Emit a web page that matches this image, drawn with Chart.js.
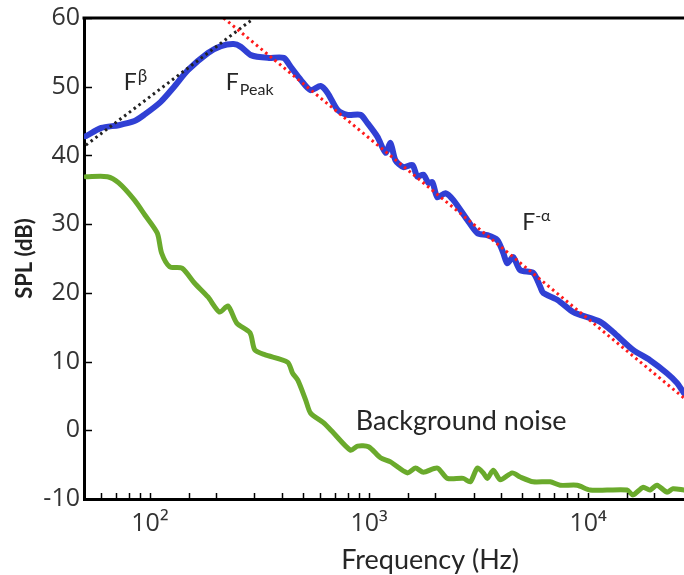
<!DOCTYPE html>
<html><head><meta charset="utf-8">
<script src="https://cdn.jsdelivr.net/npm/chart.js@4/dist/chart.umd.min.js"></script>
<style>html,body{margin:0;padding:0;background:#fff;overflow:hidden}</style>
</head><body>
<canvas id="c" width="684" height="575"></canvas>
<script>
// Measured spectrum (blue)
const blueFreq=[51,60,72,85,94,112,129,149,184,211,241,260,289,345,408,439,488,541,601,647,719,798,915,984,1093,1189,1253,1320,1436,1578,1663,1771,1867,1947,2052,2231,2427,2811,3121,3467,3849,4101,4276,4553,4900,5616,6044,6237,7225,8545,9196,11342,13000,16032,19164,22902,25440,27374];
const blueSPL=[42.8,44.0,44.4,45.0,45.9,47.8,50.0,52.4,54.9,55.9,56.2,55.8,54.6,54.2,54.2,52.9,51.0,49.5,50.1,49.1,46.6,45.9,45.9,44.7,42.7,40.4,41.8,39.3,38.3,38.6,36.9,37.2,36.0,36.1,33.9,34.5,33.5,30.6,28.7,28.4,27.7,25.8,24.3,25.2,23.3,22.9,20.9,20.0,19.0,17.2,16.8,15.8,14.3,11.7,10.2,8.3,6.9,5.4];
// Background noise (green)
const noiseFreq=[51,64,72,85,95,108,113,123,140,160,184,208,227,249,286,301,334,425,448,473,514,541,619,689,824,886,995,1128,1253,1497,1629,1771,2052,2278,2695,2900,3121,3323,3467,3692,3973,4507,4900,5616,6713,7455,8910,10212,12208,15053,16032,17806,19164,20628,22902,24391,27374];
const noiseSPL=[36.9,36.9,36.0,33.5,31.3,28.7,25.8,23.8,23.6,21.4,19.4,17.2,18.1,15.6,14.2,11.7,11.0,9.9,8.3,7.3,4.4,2.5,1.1,-0.4,-2.9,-2.3,-2.4,-4.0,-4.6,-6.2,-5.5,-6.1,-5.5,-7.0,-7.0,-7.5,-5.5,-6.2,-7.0,-5.8,-7.2,-6.2,-6.8,-7.5,-7.5,-8.0,-8.0,-8.7,-8.7,-8.7,-9.4,-8.3,-8.7,-8.0,-9.0,-8.5,-8.7];
// Power-law fits
const fitHighFreq=[217,27374];
const fitHighSPL=[60,4.7];
const fitLowFreq=[51,288];
const fitLowSPL=[41.5,59.6];
// Axis tick labels
const xTickValues=[100,1000,10000];
const xTickLabels=['10²','10³','10⁴'];
const yTickValues=[-10,0,10,20,30,40,50,60];

const pts=(xs,ys)=>xs.map((v,i)=>({x:v,y:ys[i]}));

const overlay={
  id:'overlay',
  afterDraw(chart){
    const {ctx,chartArea:a,scales:{x,y}}=chart;
    ctx.save();
    ctx.strokeStyle='#000';
    ctx.lineWidth=3;
    ctx.beginPath();ctx.moveTo(a.left-1.5,a.top);ctx.lineTo(chart.width,a.top);ctx.stroke();
    ctx.lineWidth=1.5;
    y.ticks.forEach(t=>{
      const py=Math.round(y.getPixelForValue(t.value))+0.5;
      ctx.beginPath();ctx.moveTo(a.left,py);ctx.lineTo(a.left+8,py);ctx.stroke();
    });
    x.ticks.forEach(t=>{
      if(t.value<=x.min*1.001||t.value>=x.max*0.999)return;
      const px=Math.round(x.getPixelForValue(t.value))+0.5;
      ctx.beginPath();ctx.moveTo(px,a.bottom);ctx.lineTo(px,a.bottom-6);ctx.stroke();
    });
    ctx.fillStyle='#262626';
    ctx.textBaseline='alphabetic';
    ctx.textAlign='left';
    const put=(s,px,py,size)=>{ctx.font=size+'px Lato';ctx.fillText(s,px,py);return ctx.measureText(s).width;};
    let px,py,w;
    px=x.getPixelForValue(76);py=y.getPixelForValue(49.5);
    w=put('F',px,py,23);put('β',px+w+1,py-8,17);
    px=x.getPixelForValue(222);py=y.getPixelForValue(49.5);
    w=put('F',px,py,23);put('Peak',px+w+1,py+5,16);
    px=x.getPixelForValue(5000);py=y.getPixelForValue(29.1);
    w=put('F',px,py,23);put('-α',px+w,py-9,16);
    px=x.getPixelForValue(870);py=y.getPixelForValue(0);
    put('Background noise',px,py,27);
    ctx.textAlign='center';
    put('Frequency (Hz)',x.getPixelForValue(1900),chart.height-6,27);
    ctx.restore();
  }
};

new Chart(document.getElementById('c'),{
  type:'line',
  data:{datasets:[
    {label:'fit high',data:pts(fitHighFreq,fitHighSPL),borderColor:'#ff1a1a',borderWidth:3,borderDash:[2.5,3.5],pointRadius:0,order:0},
    {label:'fit low',data:pts(fitLowFreq,fitLowSPL),borderColor:'#222',borderWidth:3,borderDash:[2.5,3.5],pointRadius:0,order:1},
    {label:'SPL',data:pts(blueFreq,blueSPL),borderColor:'#3040d4',borderWidth:6,pointRadius:0,tension:0.25,borderJoinStyle:'round',borderCapStyle:'round',order:2},
    {label:'Background noise',data:pts(noiseFreq,noiseSPL),borderColor:'#6aaa2c',borderWidth:5,pointRadius:0,tension:0.25,borderJoinStyle:'round',borderCapStyle:'round',order:3}
  ]},
  options:{
    responsive:false,animation:false,
    layout:{padding:{top:18,right:0,left:0,bottom:0}},
    plugins:{legend:{display:false},tooltip:{enabled:false}},
    scales:{
      x:{type:'logarithmic',min:50,max:27400,position:'bottom',
        grid:{display:false,drawTicks:false},
        border:{display:true,color:'#000',width:3},
        ticks:{autoSkip:false,maxRotation:0,padding:10,color:'#333',font:{family:'Open Sans',size:25},
          callback(v){const i=xTickValues.findIndex(t=>Math.abs(t-v)<1e-6*t);return i>=0?xTickLabels[i]:'';}},
        afterFit(s){s.height=76;s.paddingLeft=0;s.paddingRight=0;}
      },
      y:{type:'linear',min:-10,max:60,
        grid:{display:false,drawTicks:false},
        border:{display:true,color:'#000',width:3},
        afterBuildTicks(s){s.ticks=yTickValues.map(v=>({value:v}));},
        ticks:{padding:4,color:'#333',font:{family:'Open Sans',size:25}},
        title:{display:true,text:'SPL (dB)',color:'#222',font:{family:'Lato',size:22,weight:'bold'},padding:{top:12,bottom:0}},
        afterFit(s){s.width=84;s.paddingTop=0;s.paddingBottom=0;}
      }
    }
  },
  plugins:[overlay]
});
</script>
</body></html>
